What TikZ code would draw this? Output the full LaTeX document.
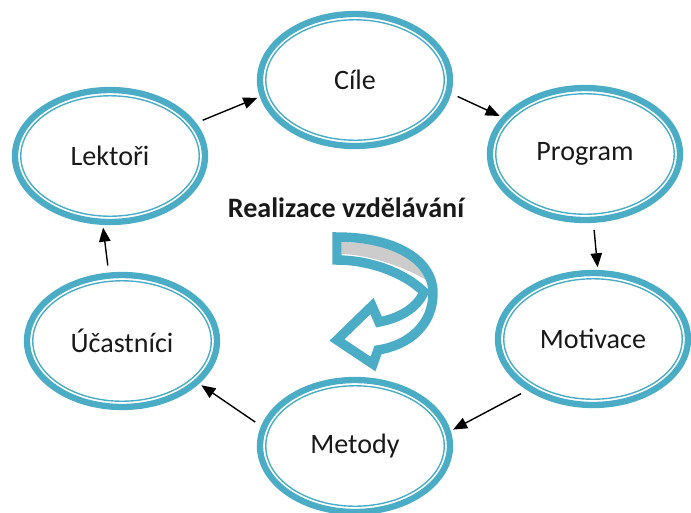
\documentclass[tikz,border=0pt]{standalone}
\usepackage{fontspec}
\setmainfont{Carlito}
\usetikzlibrary{shapes.geometric,arrows.meta,positioning}
\definecolor{ringblue}{RGB}{75,172,198}
\definecolor{swirlgray}{RGB}{204,204,204}

\begin{document}
\begin{tikzpicture}[
    x=0.02cm, y=-0.02cm,
    stage/.style={ellipse, draw=ringblue, line width=3.6pt, minimum width=3.8cm, minimum height=2.64cm, inner sep=0pt, font=\fontsize{16}{19}\selectfont, text=black!90,
        path picture={\draw[ringblue, line width=0.8pt] (path picture bounding box.center) ellipse (1.785cm and 1.205cm);}},
    arrow/.style={->, >={Triangle[length=8pt,width=6.5pt]}, line width=0.8pt, shorten <=4pt, shorten >=1.5pt}
]
    \useasboundingbox (0,0) rectangle (691,512);
    \node[stage] (cile) at (355,80) {Cíle};
    \node[stage] (program) at (585,154) {Program};
    \node[stage] (motivace) at (593,339) {Motivace};
    \node[stage] (metody) at (355,446) {Metody};
    \node[stage] (ucastnici) at (122,341) {Účastníci};
    \node[stage] (lektori) at (110,156) {Lektoři};
    \node[font=\bfseries\fontsize{16}{19}\selectfont, text=black!90] (title) at (346,208) {Realizace vzdělávání};
    \draw[arrow] (lektori.21.8) -- (cile.190.5);
    \draw[arrow] (cile.352.6) -- (program.156.3);
    \draw[arrow] (program.277.7) -- (motivace.86.4);
    \draw[arrow] (motivace.218.5) -- (metody.9.7);
    \draw[arrow] (metody.168) -- (ucastnici.331);
    \draw[arrow] (ucastnici.101) -- (lektori.264);
    % curved arrow in the middle
    \fill[swirlgray] (342,242) .. controls (390,243) and (421,257) .. (428,281)
        .. controls (405,267) and (370,255) .. (342,254) -- cycle;
    \draw[ringblue, line width=5.4pt]
        (337,237) .. controls (395,237) and (433,260) .. (433,293)
        .. controls (433,324) and (410,345) .. (378,350)
        -- (373,364) -- (337,340) -- (372,306) -- (379,322)
        .. controls (400,318) and (417,308) .. (424,292)
        .. controls (405,273) and (370,260) .. (337,260) -- cycle;
\end{tikzpicture}
\end{document}
